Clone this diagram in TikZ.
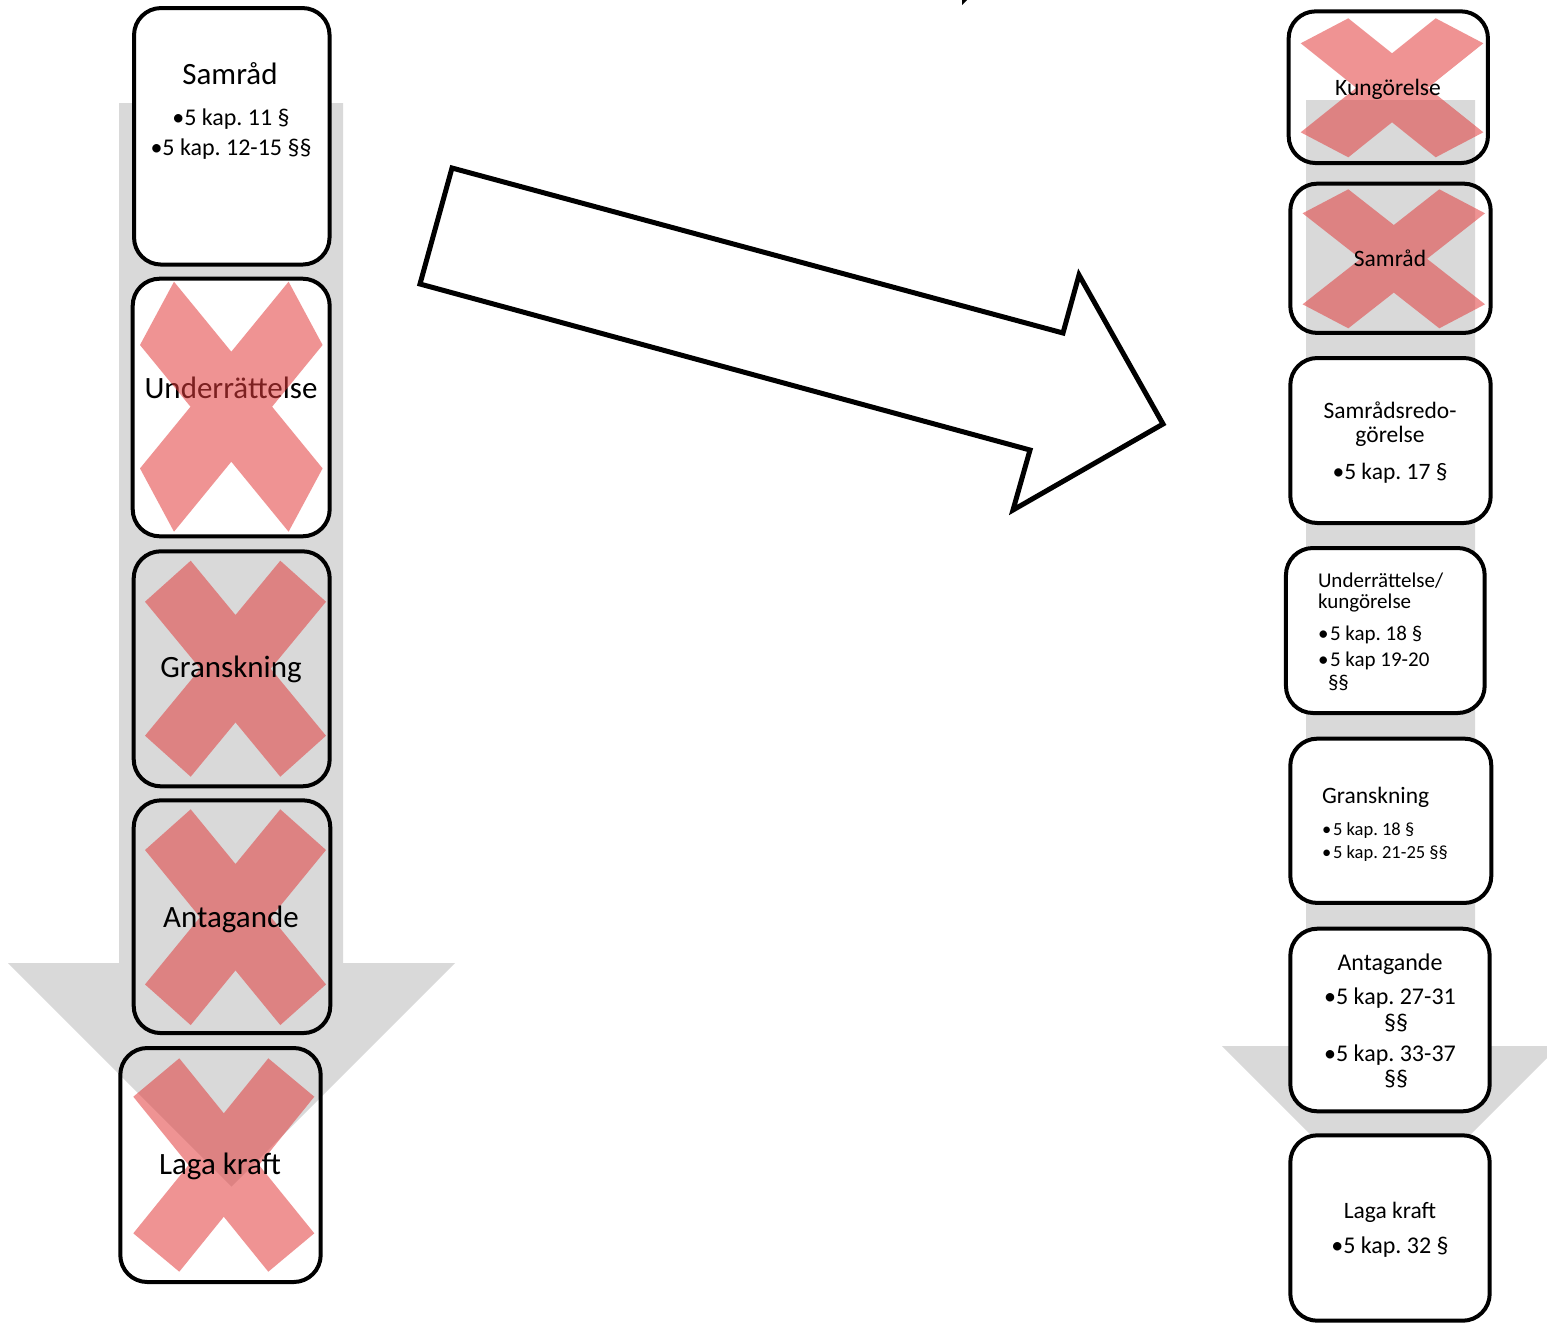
\documentclass[tikz,border=0pt]{standalone}
\usepackage{fontspec}
\setmainfont{Carlito}
\frenchspacing
\definecolor{arrowgray}{RGB}{217,217,217}
\definecolor{crossred}{RGB}{226,60,60}
\newcommand\fTitleL{\fontsize{31}{37}\selectfont}
\newcommand\fBulL{\fontsize{24}{29}\selectfont}
\newcommand\fTitleR{\fontsize{23.5}{28}\selectfont}
\newcommand\fMidR{\fontsize{21}{25}\selectfont}
\newcommand\fSmallR{\fontsize{18.5}{22}\selectfont}
\newcommand\fBigR{\fontsize{24}{29}\selectfont}
\tikzset{
  tbox/.style={draw=black, line width=4pt, rounded corners=27pt, inner sep=0pt, outer sep=0pt},
  wbox/.style={tbox, fill=white},
  txt/.style={inner sep=0pt, outer sep=0pt, anchor=base, text=black},
  txtl/.style={txt, anchor=base west},
  xfill/.style={fill=crossred, fill opacity=0.55},
  grayarrow/.style={fill=arrowgray},
}
% cross: cx, cy, sx, sy, bx, ay, cny, lx
\newcommand\crossmarkX[8]{%
  \fill[xfill, shift={(#1,#2)}] (-#3,-#6) -- (-#5,-#4) -- (0,-#7) -- (#5,-#4) -- (#3,-#6) -- (#8,0)
    -- (#3,#6) -- (#5,#4) -- (0,#7) -- (-#5,#4) -- (-#3,#6) -- (-#8,0) -- cycle;}
\begin{document}
\begin{tikzpicture}[x=1pt, y=-1pt]
\useasboundingbox[fill=white] (0,0) rectangle (1547,1323);

% grey process arrows
\fill[grayarrow] (119,103) -- (343,103) -- (343,963) -- (455,963) -- (231.5,1186.5) -- (8,963) -- (119,963) -- cycle;
\fill[grayarrow] (1306,100) -- (1475,100) -- (1475,1046) -- (1547,1046) -- (1547,1058) -- (1390.5,1214.5) -- (1222,1046) -- (1306,1046) -- cycle;

% small mark at top
\fill[black] (962,0) -- (967,0) -- (962,5) -- cycle;

% big hollow arrow
\draw[line width=5pt, line join=miter, fill=white] (452,168) -- (1063,333) -- (1079,275) -- (1163,424) -- (1013,510) -- (1030,450) -- (420,284) -- cycle;

% left column boxes
\node[wbox, minimum width=195.5pt, minimum height=256.5pt] (L1) at (231.8,136.3) {};
\node[wbox, minimum width=197pt, minimum height=257.6pt] (L2) at (231.2,407.5) {};
\node[tbox, minimum width=196pt, minimum height=235pt] (L3) at (231.7,668.8) {};
\node[tbox, minimum width=196.6pt, minimum height=232.7pt] (L4) at (232,916.7) {};
\node[tbox, minimum width=200.4pt, minimum height=234pt] (L5) at (220.5,1165) {};

% left crosses (under text except Underrättelse)
\crossmarkX{235.5}{668.7}{90.5}{108}{44.8}{67}{53.7}{35.2}
\crossmarkX{235.5}{917.2}{90.5}{107.9}{44.8}{67.2}{53.2}{35.5}
\crossmarkX{223.8}{1165}{90.5}{106.7}{44.5}{68.3}{51.7}{35.2}

% left texts
\node[txt, font=\fTitleL] (L1a) at (230,84) {Samråd};
\node[txt, font=\fBulL] (L1b) at (231,125) {•5 kap. 11 §};
\node[txt, font=\fBulL] (L1c) at (231,155) {•5 kap. 12-15 §§};
\node[txt, font=\fTitleL] (L2a) at (231,398) {Underrättelse};
\node[txt, font=\fTitleL] (L3a) at (231,677) {Granskning};
\node[txt, font=\fTitleL] (L4a) at (231,927) {Antagande};
\node[txt, font=\fTitleL] (L5a) at (220,1174) {Laga kraft};

\crossmarkX{231.3}{406.7}{91.3}{125}{57.3}{61.7}{55}{40.8}

% right column boxes
\node[tbox, minimum width=199.3pt, minimum height=151.7pt] (R1) at (1388.3,87.2) {};
\node[tbox, minimum width=200.4pt, minimum height=149.3pt] (R2) at (1390.5,258.3) {};
\node[wbox, minimum width=200.4pt, minimum height=165pt] (R3) at (1390.5,440.5) {};
\node[wbox, minimum width=198.7pt, minimum height=165pt] (R4) at (1385.3,630.5) {};
\node[wbox, minimum width=201pt, minimum height=164.3pt] (R5) at (1390.8,820.8) {};
\node[wbox, minimum width=199.4pt, minimum height=182.6pt] (R6) at (1390,1020) {};
\node[wbox, minimum width=199.4pt, minimum height=185.4pt] (R7) at (1390,1228) {};

\crossmarkX{1392}{87.8}{91.3}{69.5}{43.7}{44.5}{34.5}{35.7}
\crossmarkX{1393.8}{258.8}{91.2}{69.5}{45.5}{45.5}{33.8}{33.2}

% right texts
\node[txt, font=\fTitleR] (R1a) at (1388,95) {Kungörelse};
\node[txt, font=\fTitleR] (R2a) at (1390,266.7) {Samråd};
\node[txt, font=\fTitleR] (R3a) at (1390,418) {Samrådsredo-};
\node[txt, font=\fTitleR] (R3b) at (1390,442) {görelse};
\node[txt, font=\fTitleR] (R3c) at (1390,479) {•5 kap. 17 §};
\node[txtl, font=\fMidR] (R4a) at (1318,587) {Underrättelse/};
\node[txtl, font=\fMidR] (R4b) at (1318,608) {kungörelse};
\node[txtl, font=\fMidR] (R4c) at (1318,640) {\makebox[12pt][l]{•}5 kap. 18 §};
\node[txtl, font=\fMidR] (R4d) at (1318,666) {\makebox[12pt][l]{•}5 kap 19-20};
\node[txtl, font=\fMidR] (R4e) at (1328,689) {§§};
\node[txtl, font=\fTitleR] (R5a) at (1322,803) {Granskning};
\node[txtl, font=\fSmallR] (R5b) at (1322,835) {\makebox[11pt][l]{•}5 kap. 18 §};
\node[txtl, font=\fSmallR] (R5c) at (1322,858) {\makebox[11pt][l]{•}5 kap. 21-25 §§};
\node[txt, font=\fBigR] (R6a) at (1390,970) {Antagande};
\node[txt, font=\fBigR] (R6b) at (1390,1004) {•5 kap. 27-31};
\node[txt, font=\fBigR] (R6c) at (1396,1030) {§§};
\node[txt, font=\fBigR] (R6d) at (1390,1061) {•5 kap. 33-37};
\node[txt, font=\fBigR] (R6e) at (1396,1086) {§§};
\node[txt, font=\fTitleR] (R7a) at (1390,1218) {Laga kraft};
\node[txt, font=\fBigR] (R7b) at (1390,1253) {•5 kap. 32 §};
\end{tikzpicture}
\end{document}
